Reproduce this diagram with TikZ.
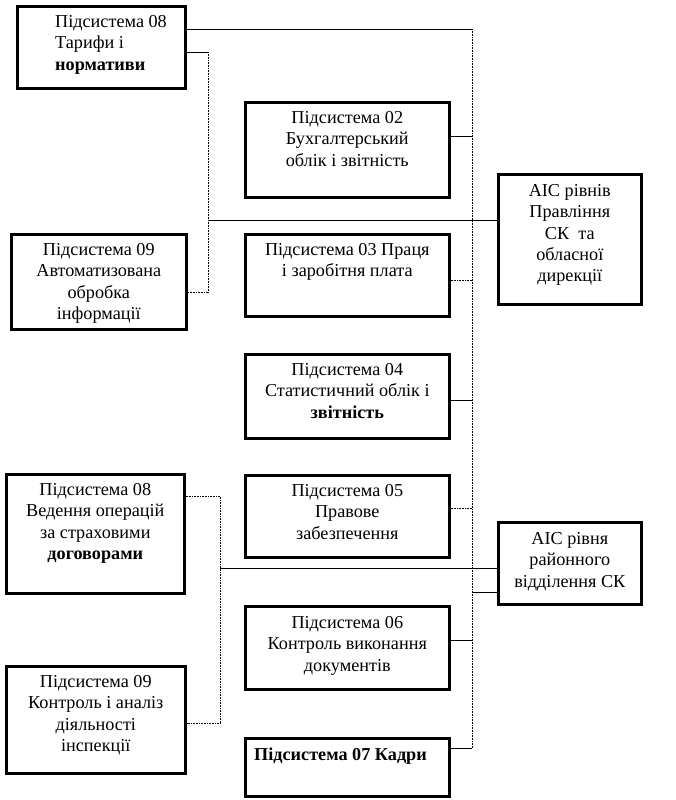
\documentclass[tikz,border=0pt]{standalone}
\usepackage{fontspec}
\setmainfont{Liberation Serif}

\begin{document}
\begin{tikzpicture}[x=1pt, y=-1pt,
        subsys/.style={draw, line width=2.6pt, anchor=north west, inner sep=0pt},
        txt/.style={font=\fontsize{18.2}{21.4}\selectfont, align=center, inner sep=0pt, anchor=north},
        link/.style={line width=0.8pt},
        dotline/.style={line width=0.8pt, dash pattern=on 0.8pt off 0.8pt}]

    \useasboundingbox (0,0) rectangle (676,800);

    % left column
    \node[subsys, minimum width=168, minimum height=82] (s08a) at (16,5) {};
    \node[subsys, minimum width=175, minimum height=95] (s09a) at (10,233) {};
    \node[subsys, minimum width=178, minimum height=119] (s08b) at (5,473) {};
    \node[subsys, minimum width=179, minimum height=107] (s09b) at (5,665) {};

    % middle column
    \node[subsys, minimum width=204, minimum height=95] (s02) at (244,101) {};
    \node[subsys, minimum width=204, minimum height=82] (s03) at (244,233) {};
    \node[subsys, minimum width=204, minimum height=84] (s04) at (244,353) {};
    \node[subsys, minimum width=204, minimum height=82] (s05) at (244,474) {};
    \node[subsys, minimum width=204, minimum height=83] (s06) at (244,605) {};
    \node[subsys, minimum width=204, minimum height=58] (s07) at (244,737) {};

    % right column
    \node[subsys, minimum width=143, minimum height=130] (ais1) at (497,173) {};
    \node[subsys, minimum width=143, minimum height=82] (ais2) at (497,521) {};

    % texts
    \node[txt, align=left, anchor=north west] (t08a) at ([xshift=39, yshift=-10]s08a.north west)
        {Підсистема 08\\Тарифи і\\\textbf{нормативи}};
    \node[txt] (t09a) at ([yshift=-10]s09a.north) {Підсистема 09\\Автоматизована\\обробка\\інформації};
    \node[txt] (t08b) at ([yshift=-10]s08b.north) {Підсистема 08\\Ведення операцій\\за страховими\\\textbf{договорами}};
    \node[txt] (t09b) at ([yshift=-10]s09b.north) {Підсистема 09\\Контроль і аналіз\\діяльності\\інспекції};
    \node[txt] (t02) at ([yshift=-10]s02.north) {Підсистема 02\\Бухгалтерський\\облік і звітність};
    \node[txt] (t03) at ([yshift=-10]s03.north) {Підсистема 03 Праця\\і заробітня плата};
    \node[txt] (t04) at ([yshift=-10]s04.north) {Підсистема 04\\Статистичний облік і\\\textbf{звітність}};
    \node[txt] (t05) at ([yshift=-10]s05.north) {Підсистема 05\\Правове\\забезпечення};
    \node[txt] (t06) at ([yshift=-11]s06.north) {Підсистема 06\\Контроль виконання\\документів};
    \node[txt, align=left, anchor=north west] (t07) at ([xshift=10, yshift=-11]s07.north west)
        {\textbf{Підсистема 07 Кадри}};
    \node[txt] (tais1) at ([yshift=-11]ais1.north) {АІС рівнів\\Правління\\СК\ \ та\\обласної\\дирекції};
    \node[txt] (tais2) at ([yshift=-11]ais2.north) {АІС рівня\\районного\\відділення СК};

    % bus points
    \coordinate (bustop) at (472,29);
    \coordinate (b02) at (472,136);
    \coordinate (b03) at (472,280);
    \coordinate (b04) at (472,400);
    \coordinate (b05) at (472,508);
    \coordinate (bais) at (472,592);
    \coordinate (b06) at (472,640);
    \coordinate (b07) at (472,748);

    \draw[dotline] (bustop) -- (b07);
    \draw[link] (bustop -| s08a.east) -- (bustop);
    \draw[link] (b02 -| s02.east) -- (b02);
    \draw[dotline] (b03 -| s03.east) -- (b03);
    \draw[link] (b04 -| s04.east) -- (b04);
    \draw[dotline] (b05 -| s05.east) -- (b05);
    \draw[link] (bais) -- (bais -| ais2.west);
    \draw[link] (b06 -| s06.east) -- (b06);
    \draw[link] (b07 -| s07.east) -- (b07);

    % left brackets
    \coordinate (k1top) at (208,52);
    \coordinate (k1mid) at (208,220);
    \coordinate (k1bot) at (208,292);
    \draw[link] (k1top -| s08a.east) -- (k1top);
    \draw[dotline] (k1top) -- (k1bot) -- (k1bot -| s09a.east);
    \draw[link] (k1mid) -- (k1mid -| ais1.west);

    \coordinate (k2top) at (220,496);
    \coordinate (k2mid) at (220,568);
    \coordinate (k2bot) at (220,723);
    \draw[dotline] (k2top -| s08b.east) -- (k2top) -- (k2bot) -- (k2bot -| s09b.east);
    \draw[link] (k2mid) -- (k2mid -| ais2.west);

\end{tikzpicture}
\end{document}
